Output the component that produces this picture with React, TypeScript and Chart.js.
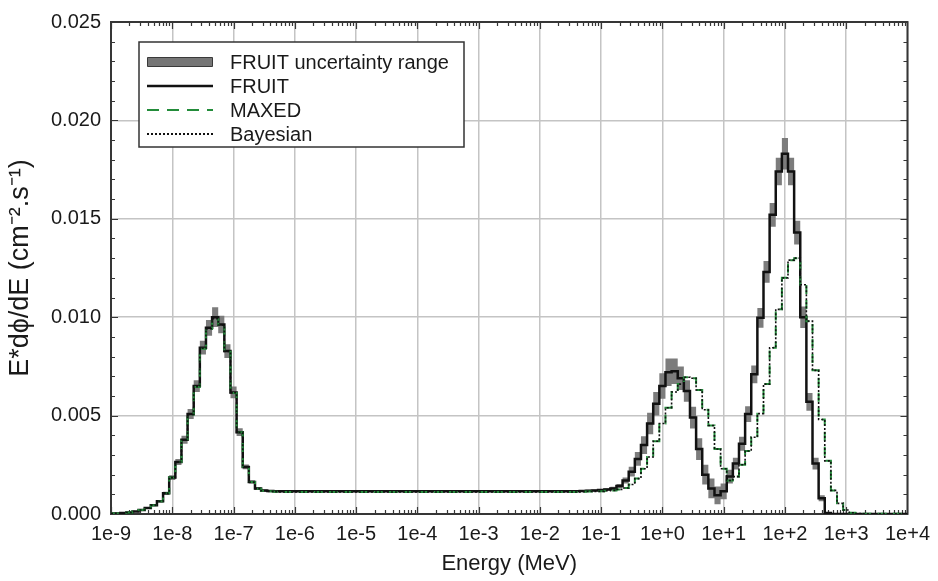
import { useEffect, useRef } from "react";
import { Chart, registerables } from "chart.js";

Chart.register(...registerables);

// Bin-centre energies (MeV): 10 log-bins per decade, 1e-9 .. 1e4
const DECADE_EXPONENTS = [-9, -8, -7, -6, -5, -4, -3, -2, -1, 0, 1, 2, 3];
const BIN_MANTISSAS = [1.0, 1.259, 1.585, 1.995, 2.512, 3.162, 3.981, 5.012, 6.31, 7.943];
const ENERGY_MEV: number[] = [
  ...DECADE_EXPONENTS.flatMap((e) => BIN_MANTISSAS.map((m) => Number(`${m}e${e}`))),
  1e4,
];

const X_TICK_EXPONENTS = [-9, -8, -7, -6, -5, -4, -3, -2, -1, 0, 1, 2, 3, 4];
const X_TICK_LABELS = ["1e-9", "1e-8", "1e-7", "1e-6", "1e-5", "1e-4", "1e-3", "1e-2", "1e-1", "1e+0", "1e+1", "1e+2", "1e+3", "1e+4"];
const Y_MAX = 0.025;
const Y_MAJOR_STEP = 0.005;
const Y_MINOR_STEP = 0.001;

// Values in units of 1e-3 cm^-2 s^-1 (one value per bin)
const FRUIT_E3 = [
  0.02, 0.03, 0.05, 0.08, 0.13, 0.2, 0.3, 0.45, 0.65, 1.05,
  1.85, 2.64, 3.77, 5.08, 6.5, 8.45, 9.46, 10.0, 9.63, 8.28,
  6.18, 4.16, 2.39, 1.63, 1.3, 1.2, 1.17, 1.15, 1.15, 1.15,
  1.15, 1.15, 1.15, 1.15, 1.15, 1.15, 1.15, 1.15, 1.15, 1.15,
  1.15, 1.15, 1.15, 1.15, 1.15, 1.15, 1.15, 1.15, 1.15, 1.15,
  1.15, 1.15, 1.15, 1.15, 1.15, 1.15, 1.15, 1.15, 1.15, 1.15,
  1.15, 1.15, 1.15, 1.15, 1.15, 1.15, 1.15, 1.15, 1.15, 1.15,
  1.15, 1.15, 1.15, 1.15, 1.15, 1.15, 1.16, 1.17, 1.18, 1.2,
  1.22, 1.25, 1.3, 1.42, 1.7, 2.15, 2.8, 3.5, 4.6, 5.6,
  6.5, 7.2, 7.25, 6.9, 6.25, 4.9, 3.3, 2.0, 1.3, 0.95,
  1.15, 1.9, 2.56, 3.57, 5.08, 7.1, 9.97, 12.3, 15.2, 17.4,
  18.3, 17.4, 14.3, 10.0, 5.7, 2.56, 0.8, 0.05, 0, 0,
  0, 0, 0, 0, 0, 0, 0, 0, 0, 0,
  0,
];

const FRUIT_SIGMA_E3 = [
  0.01, 0.01, 0.01, 0.01, 0.02, 0.02, 0.03, 0.04, 0.06, 0.08,
  0.12, 0.15, 0.2, 0.25, 0.3, 0.35, 0.4, 0.5, 0.45, 0.35,
  0.3, 0.2, 0.12, 0.08, 0.06, 0.05, 0.04, 0.04, 0.04, 0.04,
  0.04, 0.04, 0.04, 0.04, 0.04, 0.04, 0.04, 0.04, 0.04, 0.04,
  0.04, 0.04, 0.04, 0.04, 0.04, 0.04, 0.04, 0.04, 0.04, 0.04,
  0.04, 0.04, 0.04, 0.04, 0.04, 0.04, 0.04, 0.04, 0.04, 0.04,
  0.04, 0.04, 0.04, 0.04, 0.04, 0.04, 0.04, 0.04, 0.04, 0.04,
  0.04, 0.04, 0.04, 0.04, 0.04, 0.04, 0.04, 0.04, 0.05, 0.05,
  0.05, 0.06, 0.08, 0.1, 0.15, 0.25, 0.35, 0.45, 0.55, 0.6,
  0.65, 0.7, 0.65, 0.6, 0.55, 0.55, 0.55, 0.5, 0.5, 0.45,
  0.4, 0.35, 0.3, 0.35, 0.4, 0.45, 0.5, 0.55, 0.6, 0.7,
  0.8, 0.7, 0.6, 0.55, 0.45, 0.3, 0.15, 0.05, 0, 0,
  0, 0, 0, 0, 0, 0, 0, 0, 0, 0,
  0,
];

const MAXED_E3 = [
  0.02, 0.03, 0.05, 0.08, 0.13, 0.2, 0.3, 0.45, 0.65, 1.05,
  1.85, 2.64, 3.75, 5.05, 6.45, 8.4, 9.4, 9.9, 9.6, 8.25,
  6.15, 4.15, 2.4, 1.62, 1.28, 1.18, 1.15, 1.13, 1.12, 1.12,
  1.12, 1.12, 1.12, 1.12, 1.12, 1.12, 1.12, 1.12, 1.12, 1.12,
  1.12, 1.12, 1.12, 1.12, 1.12, 1.12, 1.12, 1.12, 1.12, 1.12,
  1.12, 1.12, 1.12, 1.12, 1.12, 1.12, 1.12, 1.12, 1.12, 1.12,
  1.12, 1.12, 1.12, 1.12, 1.12, 1.12, 1.12, 1.12, 1.12, 1.12,
  1.12, 1.12, 1.12, 1.12, 1.12, 1.12, 1.12, 1.13, 1.14, 1.15,
  1.15, 1.18, 1.2, 1.25, 1.32, 1.5, 1.8, 2.3, 2.9, 3.7,
  4.6, 5.4, 6.2, 6.6, 6.95, 6.9, 6.3, 5.3, 4.5, 3.3,
  2.3, 1.7, 1.9, 2.5, 3.2, 3.9, 5.1, 6.6, 8.45, 10.4,
  12.0, 12.9, 13.0, 11.65, 9.8, 7.3, 4.8, 2.7, 1.2, 0.54,
  0.2, 0.06, 0.02, 0.01, 0.01, 0.01, 0.01, 0.01, 0.01, 0.01,
  0.01,
];

const BAYESIAN_E3 = [
  0.02, 0.03, 0.05, 0.08, 0.13, 0.2, 0.3, 0.45, 0.65, 1.05,
  1.85, 2.64, 3.76, 5.06, 6.47, 8.42, 9.42, 9.92, 9.6, 8.26,
  6.16, 4.15, 2.4, 1.62, 1.29, 1.18, 1.15, 1.13, 1.12, 1.12,
  1.12, 1.12, 1.12, 1.12, 1.12, 1.12, 1.12, 1.12, 1.12, 1.12,
  1.12, 1.12, 1.12, 1.12, 1.12, 1.12, 1.12, 1.12, 1.12, 1.12,
  1.12, 1.12, 1.12, 1.12, 1.12, 1.12, 1.12, 1.12, 1.12, 1.12,
  1.12, 1.12, 1.12, 1.12, 1.12, 1.12, 1.12, 1.12, 1.12, 1.12,
  1.12, 1.12, 1.12, 1.12, 1.12, 1.12, 1.12, 1.13, 1.14, 1.15,
  1.15, 1.18, 1.2, 1.25, 1.32, 1.5, 1.8, 2.3, 2.9, 3.7,
  4.6, 5.4, 6.2, 6.6, 6.95, 6.9, 6.3, 5.3, 4.5, 3.3,
  2.3, 1.7, 1.9, 2.5, 3.2, 3.9, 5.1, 6.6, 8.45, 10.4,
  12.0, 12.9, 13.0, 11.65, 9.8, 7.3, 4.8, 2.7, 1.2, 0.54,
  0.2, 0.06, 0.02, 0.01, 0.01, 0.01, 0.01, 0.01, 0.01, 0.01,
  0.01,
];

const LEGEND_LABELS = ["FRUIT uncertainty range", "FRUIT", "MAXED", "Bayesian"];

const FONT = "'Liberation Sans', Arial, Helvetica, sans-serif";
const TEXT_COLOR = "#1a1a1a";
const FRAME_COLOR = "#363636";
const GRID_COLOR = "#c4c4c4";
const BAND_COLOR = "#7c7c7c";
const FRUIT_COLOR = "#111111";
const MAXED_COLOR = "#238c3a";
const BAYES_COLOR = "#111111";

const toPoints = (vals: number[]) =>
  vals.map((v, i) => ({ x: ENERGY_MEV[i], y: v / 1000 }));

export default function App() {
  const ref = useRef<HTMLCanvasElement | null>(null);

  useEffect(() => {
    const canvas = ref.current;
    if (!canvas) return;

    const frameTicks = {
      id: "frameTicks",
      beforeDatasetsDraw(chart: any) {
        const { ctx, chartArea: a, scales } = chart;
        const xs = scales.x;
        const ys = scales.y;
        ctx.save();
        ctx.strokeStyle = FRAME_COLOR;
        ctx.lineWidth = 1.2;
        ctx.beginPath();
        for (const e of DECADE_EXPONENTS) {
          for (let m = 1; m <= 9; m++) {
            const len = m === 1 ? 7 : 4;
            const px = Math.round(xs.getPixelForValue(Number(`${m}e${e}`))) + 0.5;
            ctx.moveTo(px, a.bottom);
            ctx.lineTo(px, a.bottom - len);
            ctx.moveTo(px, a.top);
            ctx.lineTo(px, a.top + len);
          }
        }
        const nMinor = Math.round(Y_MAX / Y_MINOR_STEP);
        const ratio = Math.round(Y_MAJOR_STEP / Y_MINOR_STEP);
        for (let j = 0; j <= nMinor; j++) {
          const len = j % ratio === 0 ? 7 : 4;
          const py = Math.round(ys.getPixelForValue(j * Y_MINOR_STEP)) + 0.5;
          ctx.moveTo(a.left, py);
          ctx.lineTo(a.left + len, py);
          ctx.moveTo(a.right, py);
          ctx.lineTo(a.right - len, py);
        }
        ctx.stroke();
        ctx.lineWidth = 2;
        ctx.strokeRect(a.left, a.top, a.right - a.left, a.bottom - a.top);
        ctx.restore();
      },
    };

    const boxLegend = {
      id: "boxLegend",
      afterDraw(chart: any) {
        const { ctx, chartArea: a } = chart;
        const x0 = a.left + 28;
        const y0 = a.top + 20;
        const w = 325;
        const h = 105;
        ctx.save();
        ctx.fillStyle = "#ffffff";
        ctx.fillRect(x0, y0, w, h);
        ctx.strokeStyle = "#333333";
        ctx.lineWidth = 1.5;
        ctx.strokeRect(x0, y0, w, h);
        const rowY = [20, 44, 68, 92];
        const sx0 = x0 + 8;
        const sx1 = x0 + 74;
        ctx.font = `20px ${FONT}`;
        ctx.textBaseline = "middle";
        ctx.textAlign = "left";
        LEGEND_LABELS.forEach((label, i) => {
          const y = y0 + rowY[i];
          if (i === 0) {
            ctx.fillStyle = "#767676";
            ctx.strokeStyle = "#3a3a3a";
            ctx.lineWidth = 1;
            ctx.beginPath();
            ctx.rect(sx0 + 0.5, y - 4.5, sx1 - sx0 - 1, 9);
            ctx.fill();
            ctx.stroke();
          } else {
            ctx.beginPath();
            ctx.lineWidth = i === 1 ? 2.4 : 2;
            ctx.strokeStyle = i === 2 ? MAXED_COLOR : FRUIT_COLOR;
            ctx.setLineDash(i === 2 ? [12, 8] : i === 3 ? [2, 2] : []);
            ctx.moveTo(sx0, y);
            ctx.lineTo(sx1, y);
            ctx.stroke();
            ctx.setLineDash([]);
          }
          ctx.fillStyle = TEXT_COLOR;
          ctx.fillText(label, x0 + 91, y + 1);
        });
        ctx.restore();
      },
    };

    const upper = FRUIT_E3.map((v, i) => v + FRUIT_SIGMA_E3[i]);
    const lower = FRUIT_E3.map((v, i) => Math.max(0, v - FRUIT_SIGMA_E3[i]));

    const common = { stepped: "middle", pointRadius: 0, fill: false, tension: 0 };

    const chart = new Chart(canvas, {
      type: "line",
      data: {
        datasets: [
          {
            ...common,
            label: "FRUIT uncertainty range",
            data: toPoints(upper),
            borderColor: "rgba(0,0,0,0)",
            borderWidth: 0,
            backgroundColor: BAND_COLOR,
            fill: "+1",
            order: 3,
          },
          {
            ...common,
            label: "FRUIT lower",
            data: toPoints(lower),
            borderColor: "rgba(0,0,0,0)",
            borderWidth: 0,
            order: 3,
          },
          {
            ...common,
            label: "FRUIT",
            data: toPoints(FRUIT_E3),
            borderColor: FRUIT_COLOR,
            borderWidth: 2.5,
            order: 2,
          },
          {
            ...common,
            label: "MAXED",
            data: toPoints(MAXED_E3),
            borderColor: MAXED_COLOR,
            borderWidth: 2,
            borderDash: [9, 6],
            order: 1,
          },
          {
            ...common,
            label: "Bayesian",
            data: toPoints(BAYESIAN_E3),
            borderColor: BAYES_COLOR,
            borderWidth: 1.6,
            borderDash: [2, 2],
            order: 0,
          },
        ] as any,
      },
      options: {
        animation: false,
        responsive: false,
        maintainAspectRatio: false,
        devicePixelRatio: 1,
        layout: { padding: { left: 0, top: 19, right: 25, bottom: 0 } },
        plugins: {
          legend: { display: false },
          tooltip: { enabled: false },
        },
        scales: {
          x: {
            type: "logarithmic",
            min: Number(`1e${X_TICK_EXPONENTS[0]}`),
            max: Number(`1e${X_TICK_EXPONENTS[X_TICK_EXPONENTS.length - 1]}`),
            afterBuildTicks: (s: any) => {
              s.ticks = X_TICK_EXPONENTS.map((e) => ({ value: Number(`1e${e}`) }));
            },
            afterFit: (s: any) => {
              s.height = 67;
            },
            grid: { color: GRID_COLOR, lineWidth: 1.5, drawTicks: false },
            border: { display: false },
            ticks: {
              autoSkip: false,
              maxRotation: 0,
              padding: 8,
              color: TEXT_COLOR,
              font: { family: FONT, size: 20 },
              callback: (_v: any, i: number) => X_TICK_LABELS[i],
            },
            title: {
              display: true,
              text: "Energy (MeV)",
              color: TEXT_COLOR,
              font: { family: FONT, size: 22 },
              padding: { top: 0, bottom: 4 },
            },
          },
          y: {
            type: "linear",
            min: 0,
            max: Y_MAX,
            afterFit: (s: any) => {
              s.width = 111;
            },
            grid: { color: GRID_COLOR, lineWidth: 1.5, drawTicks: false },
            border: { display: false },
            ticks: {
              stepSize: Y_MAJOR_STEP,
              padding: 10,
              color: TEXT_COLOR,
              font: { family: FONT, size: 20 },
              callback: (v: any) => Number(v).toFixed(3),
            },
            title: {
              display: true,
              text: "E*dϕ/dE (cm⁻².s⁻¹)",
              color: TEXT_COLOR,
              font: { family: FONT, size: 27 },
              padding: { top: 4, bottom: 0 },
            },
          },
        },
      } as any,
      plugins: [frameTicks, boxLegend],
    });

    return () => chart.destroy();
  }, []);

  return (
    <div style={{ position: "fixed", left: 0, top: 0, width: 938, height: 581, background: "#fff" }}>
      <canvas ref={ref} width={938} height={581} style={{ display: "block" }} />
    </div>
  );
}
